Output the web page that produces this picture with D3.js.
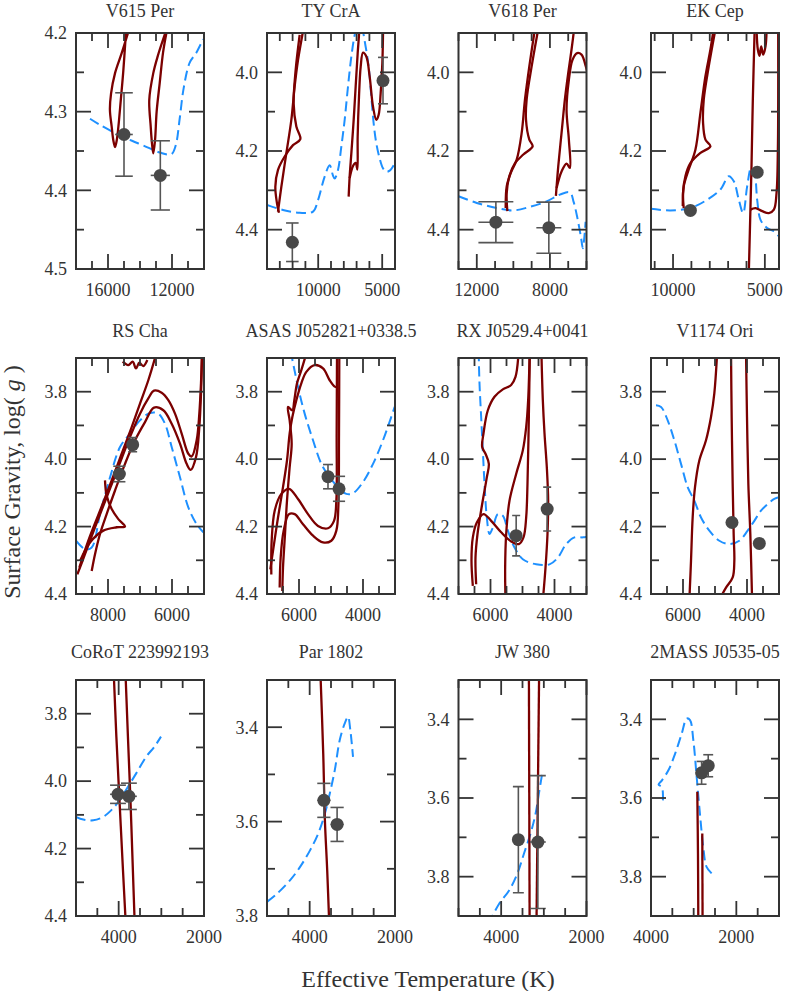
<!DOCTYPE html>
<meta charset="utf-8">

<style>
  body { margin: 0; background: #fff; }
  svg { font-family: "Liberation Serif", "Times New Roman", serif; }
  .frame { fill: none; stroke: #333; stroke-width: 2; }
  .tick { stroke: #333; stroke-width: 1.8; }
  .lbl { fill: #333; font-size: 18px; }
  .title { fill: #333; font-size: 18px; text-anchor: middle; }
  .axlabel { fill: #333; font-size: 24px; text-anchor: middle; }
  .track { fill: none; stroke: #7b0000; stroke-width: 2.3; stroke-linejoin: round; }
  .iso { fill: none; stroke: #1e90ff; stroke-width: 2; stroke-dasharray: 10,5; }
  .err { stroke: #555; stroke-width: 1.6; }
  .star { fill: #484848; }
</style>

<svg id="fig" width="790" height="991"></svg>

<script src="https://d3js.org/d3.v7.min.js"></script>
<script>
// panel titles and axis set-up
var names = ["V615 Per", "TY CrA", "V618 Per", "EK Cep",
  "RS Cha", "ASAS J052821+0338.5", "RX J0529.4+0041", "V1174 Ori",
  "CoRoT 223992193", "Par 1802", "JW 380", "2MASS J0535-05"];
var teffRange = [[18000,10000],[14000,4000],[13000,6000],[11200,4230],
  [9000,5000],[7000,3000],[7000,3000],[7000,3000],
  [5000,2000],[5000,2000],[5000,2000],[4000,1000]];
var teffLabels = [[16000,12000],[10000,5000],[12000,8000],[10000,5000],
  [8000,6000],[6000,4000],[6000,4000],[6000,4000],
  [4000,2000],[4000,2000],[4000,2000],[4000,2000]];
var teffStep = [1000,1000,1000,1000, 500,500,500,500, 500,500,500,500];
var loggRange = [[4.2,4.5],[3.9,4.5],[3.9,4.5],[3.9,4.5],
  [3.7,4.4],[3.7,4.4],[3.7,4.4],[3.7,4.4],
  [3.7,4.4],[3.3,3.8],[3.3,3.9],[3.3,3.9]];
var loggLabels = [[4.2,4.3,4.4,4.5],[4.0,4.2,4.4],[4.0,4.2,4.4],[4.0,4.2,4.4],
  [3.8,4.0,4.2,4.4],[3.8,4.0,4.2,4.4],[3.8,4.0,4.2,4.4],[3.8,4.0,4.2,4.4],
  [3.8,4.0,4.2,4.4],[3.4,3.6,3.8],[3.4,3.6,3.8],[3.4,3.6,3.8]];
var loggStep = [0.05,0.1,0.1,0.1, 0.1,0.1,0.1,0.1, 0.1,0.1,0.1,0.1];

// model tracks [Teff, log g] (solid), isochrone (dashed), stars [Teff, log g, eTeff, elogg]
var v615Tracks = [
  [[14750,4.200],[15150,4.226],[15560,4.251],[15810,4.277],[15880,4.298],[15770,4.319],[15670,4.336],[15560,4.345],[15450,4.336],[15350,4.319],[15200,4.285],[15050,4.250],[14880,4.200]],
  [[12420,4.200],[12900,4.230],[13170,4.251],[13420,4.285],[13330,4.319],[13270,4.336],[13170,4.353],[13060,4.336],[12960,4.300],[12770,4.264],[12560,4.225],[12350,4.200]]
];
var v615Iso = [[17125,4.309],[16400,4.318],[15271,4.330],[14500,4.337],[13792,4.343],[12750,4.352],[12040,4.354],[11770,4.343],[11520,4.309],[11270,4.270],[10900,4.238],[10480,4.225],[10060,4.208]];
var v615Stars = [[15000,4.329,550,0.053],[12730,4.381,600,0.044]];

var tycraTracks = [
  [[13141,4.354],[12880,4.291],[12490,4.206],[12099,4.121],[11839,4.036],[11578,3.969],[11240,3.905],[11100,3.880]],
  [[11448,3.905],[11760,3.994],[11917,4.079],[11708,4.138],[11396,4.170],[11969,4.185],[12620,4.214],[13141,4.248],[13349,4.291],[13219,4.333],[13063,4.357]],
  [[7620,4.316],[7542,4.265],[7411,4.206],[7229,4.121],[7073,4.036],[6917,3.952],[6813,3.905],[6780,3.880]],
  [[7542,4.269],[7281,4.238],[7073,4.230],[6943,4.247],[6917,4.164],[6813,4.062],[6682,3.986],[6500,3.950],[6240,3.960],[5979,4.011],[5719,4.087],[5458,4.121],[5276,4.108],[5120,4.053],[4990,3.977],[4938,3.905],[4930,3.880]]
];
var tycraIso = [[14000,4.337],[12750,4.350],[11448,4.357],[10406,4.354],[10016,4.325],[9495,4.265],[9104,4.236],[8850,4.262],[8713,4.270],[8453,4.248],[8193,4.189],[7932,4.121],[7672,4.036],[7411,3.960],[7151,3.905],[6800,3.860],[6292,3.935],[6031,3.994],[5849,4.062],[5667,4.130],[5458,4.181],[5198,4.219],[4938,4.244],[4677,4.253],[4417,4.250],[4104,4.236]];
var tycraStars = [[12021,4.432,490,0.049],[4938,4.021,390,0.059]];

var v618Tracks = [
  [[8600,3.880],[9000,3.985],[9273,4.069],[9309,4.120],[9127,4.171],[8945,4.188],[9455,4.209],[9909,4.231],[10218,4.264],[10364,4.307],[10327,4.353]],
  [[10420,4.345],[10364,4.290],[10145,4.256],[9818,4.222],[9545,4.154],[9364,4.069],[9127,3.985],[8790,3.880]],
  [[7673,4.314],[7545,4.239],[7364,4.154],[7182,4.069],[7000,4.002],[6818,3.942],[6650,3.880]],
  [[7636,4.294],[7364,4.252],[7091,4.232],[6909,4.243],[6964,4.171],[7091,4.095],[6964,4.019],[6764,3.968],[6509,3.951],[6273,3.955],[6036,3.985],[5909,4.010]]
];
var v618Iso = [[13000,4.315],[12000,4.332],[10909,4.345],[10000,4.351],[9091,4.342],[8182,4.328],[7455,4.311],[6909,4.305],[6700,4.330],[6500,4.370],[6300,4.420],[6200,4.447],[6120,4.420],[6050,4.380]];
var v618Stars = [[10956,4.381,955,0.052],[8060,4.395,683,0.065]];

var ekcepTracks = [
  [[7650,3.880],[8055,3.985],[8327,4.069],[8364,4.129],[8236,4.171],[7964,4.188],[8509,4.205],[9055,4.231],[9327,4.264],[9455,4.307],[9418,4.345]],
  [[9470,4.340],[9418,4.290],[9145,4.247],[8782,4.197],[8509,4.103],[8236,4.010],[7964,3.942],[7760,3.880]],
  [[5880,4.520],[5818,4.408],[5782,4.341],[5727,4.239],[5655,4.069],[5550,3.880]],
  [[5782,4.349],[5509,4.345],[5145,4.353],[4782,4.358],[4509,4.349],[4364,4.307],[4291,4.197],[4273,4.069],[4273,3.880]],
  [[5460,3.880],[5382,3.942],[5291,3.958],[5200,3.934],[5091,3.955],[4964,3.934],[4900,3.880]]
];
var ekcepIso = [[11200,4.347],[10145,4.351],[9055,4.345],[8145,4.324],[7418,4.298],[6964,4.264],[6691,4.277],[6418,4.324],[6182,4.358],[5964,4.290],[5745,4.243],[5564,4.256],[5418,4.324],[5236,4.375],[4873,4.396],[4509,4.404],[4236,4.417]];
var ekcepStars = [[9055,4.351,0,0],[5418,4.254,0,0]];

var rschaTracks = [
  [[8958,4.342],[8719,4.282],[8406,4.202],[8042,4.113],[7677,4.024],[7312,3.934],[7000,3.865],[6740,3.820],[6562,3.797],[6323,3.803],[6115,3.825],[5906,3.865],[5698,3.924],[5490,3.984],[5385,3.992],[5229,3.944],[5146,3.865],[5094,3.775],[5060,3.680]],
  [[8510,4.332],[8406,4.282],[8250,4.222],[8042,4.163],[7781,4.093],[7469,4.014],[7156,3.944],[6844,3.890],[6562,3.847],[6271,3.855],[6010,3.895],[5750,3.954],[5542,4.014],[5417,4.032],[5250,3.994],[5146,3.905],[5094,3.805],[5060,3.680]],
  [[8896,4.322],[8615,4.242],[8250,4.153],[7885,4.063],[7573,3.984],[7260,3.905],[7000,3.835],[6740,3.766],[6470,3.680]],
  [[8875,4.302],[8562,4.247],[8146,4.212],[7729,4.202],[7469,4.200],[7677,4.178],[7885,4.148],[8042,4.108],[8094,4.063]],
  [[7542,3.711],[7365,3.721],[7229,3.711],[7125,3.731],[7021,3.714],[6896,3.724],[6771,3.706]]
];
var rschaIso = [[9000,4.242],[8719,4.267],[8510,4.262],[8250,4.163],[7937,4.054],[7625,3.964],[7312,3.924],[7000,3.885],[6687,3.863],[6427,3.865],[6219,3.895],[6010,3.964],[5750,4.054],[5490,4.143],[5229,4.193],[5021,4.217]];
var rschaStars = [[7646,4.044,190,0.023],[7229,3.957,140,0.021]];

var asasTracks = [
  [[6896,4.327],[6812,4.272],[6656,4.173],[6500,4.083],[6375,4.004],[6292,3.924],[6208,3.875],[6083,3.825],[5927,3.775],[5771,3.741],[5510,3.721],[5250,3.731],[5042,3.766],[4885,3.785],[4812,3.787]],
  [[6521,4.391],[6500,4.322],[6437,4.222],[6375,4.123],[6292,4.024],[6229,3.954],[6292,3.885],[6344,3.845],[6208,3.855],[6146,3.825],[6062,3.775],[5927,3.736],[5750,3.680]],
  [[6865,4.342],[6854,4.242],[6760,4.153],[6552,4.103],[6312,4.088],[6031,4.118],[5719,4.163],[5406,4.198],[5094,4.205],[4906,4.183],[4833,4.123],[4823,3.924],[4812,3.680]],
  [[6604,4.381],[6573,4.292],[6479,4.212],[6312,4.163],[6135,4.163],[5875,4.193],[5562,4.227],[5250,4.247],[4990,4.242],[4833,4.212],[4771,4.143],[4750,3.924],[4740,3.680]]
];
var asasIso = [[6260,3.680],[6031,3.785],[5823,3.865],[5562,3.944],[5302,4.014],[5042,4.054],[4781,4.083],[4521,4.103],[4313,4.101],[4000,4.068],[3687,4.014],[3375,3.944],[3010,3.845]];
var asasStars = [[5094,4.052,155,0.036],[4750,4.088,190,0.037]];

var rxTracks = [
  [[6552,4.376],[6594,4.301],[6552,4.232],[6427,4.188],[6219,4.163],[5979,4.183],[5667,4.217],[5354,4.244],[5115,4.252],[4969,4.232],[4885,4.173],[4844,4.073],[4802,3.875],[4771,3.680]],
  [[6448,4.371],[6469,4.292],[6406,4.222],[6260,4.133],[6115,4.054],[6052,4.014],[6156,3.984],[6260,3.964],[6219,3.924],[6083,3.855],[5875,3.815],[5615,3.793],[5354,3.780],[5219,3.756],[5120,3.680]],
  [[5531,4.420],[5542,4.322],[5510,4.222],[5406,4.123],[5198,4.044],[4990,3.974],[4885,3.905],[4823,3.825],[4775,3.680]],
  [[4365,4.420],[4281,4.322],[4219,4.222],[4198,4.123],[4240,4.024],[4312,3.924],[4365,3.825],[4410,3.680]]
];
var rxIso = [[6370,3.680],[6344,3.775],[6292,3.875],[6240,3.974],[6187,4.073],[6115,4.173],[6031,4.222],[5927,4.203],[5771,4.163],[5615,4.168],[5458,4.212],[5250,4.262],[4990,4.297],[4573,4.312],[4156,4.312],[3896,4.292],[3635,4.252],[3375,4.232],[3115,4.232],[2990,4.230]];
var rxStars = [[5198,4.227,125,0.060],[4229,4.148,125,0.065]];

var v1174Tracks = [
  [[5802,4.420],[5750,4.302],[5698,4.173],[5625,4.083],[5490,4.004],[5281,3.944],[5125,3.875],[5021,3.805],[4930,3.680]],
  [[4500,3.680],[4479,3.875],[4448,4.073],[4417,4.222],[4396,4.302],[4448,4.351],[4656,4.381],[4880,4.420]],
  [[4031,3.680],[4000,3.875],[3958,4.073],[3896,4.222],[3840,4.420]]
];
var v1174Iso = [[6844,3.840],[6687,3.845],[6479,3.885],[6271,3.944],[6062,4.014],[5854,4.083],[5646,4.123],[5437,4.173],[5177,4.212],[4865,4.242],[4552,4.252],[4240,4.242],[3979,4.212],[3771,4.183],[3562,4.153],[3354,4.133],[3146,4.118],[2990,4.113]];
var v1174Stars = [[4469,4.188,0,0],[3615,4.250,0,0]];

var corotTracks = [
  [[4115,3.680],[4054,3.868],[3977,4.066],[3899,4.264],[3835,4.420]],
  [[3840,3.680],[3783,3.868],[3721,4.066],[3667,4.264],[3625,4.420]]
];
var corotIso = [[5000,4.106],[4829,4.114],[4597,4.116],[4364,4.106],[4171,4.086],[3977,4.056],[3783,4.017],[3589,3.977],[3357,3.928],[3163,3.898],[3008,3.868]];
var corotStars = [[4016,4.039,186,0.027],[3760,4.045,186,0.039]];

var parTracks = [
  [[3750,3.280],[3682,3.456],[3643,3.597],[3589,3.703],[3540,3.820]]
];
var parIso = [[5000,3.770],[4767,3.753],[4457,3.724],[4225,3.696],[3992,3.661],[3798,3.625],[3643,3.583],[3527,3.540],[3411,3.491],[3295,3.427],[3178,3.392],[3101,3.378],[3047,3.406],[2984,3.463]];
var parStars = [[3667,3.555,155,0.036],[3357,3.606,155,0.036]];

var jwTracks = [
  [[3350,3.280],[3333,3.920]],
  [[3110,3.280],[3172,3.920]]
];
var jwIso = [[4300,3.920],[4047,3.869],[3814,3.835],[3620,3.792],[3465,3.741],[3310,3.690],[3194,3.640],[3116,3.589],[3039,3.538]];
var jwStars = [[3597,3.706,128,0.135],[3140,3.712,186,0.169]];

var tmassTracks = [
  [[2915,3.584],[2899,3.741],[2891,3.920]],
  [[2798,3.690],[2791,3.920]]
];
var tmassIso = [[3721,3.606],[3744,3.572],[3822,3.566],[3744,3.555],[3589,3.529],[3434,3.487],[3279,3.436],[3163,3.398],[3085,3.402],[3008,3.453],[2930,3.546],[2853,3.640],[2775,3.725],[2698,3.775],[2558,3.794]];
var tmassStars = [[2814,3.536,116,0.029],[2659,3.518,116,0.028]];

var tracks = [v615Tracks, tycraTracks, v618Tracks, ekcepTracks, rschaTracks, asasTracks,
  rxTracks, v1174Tracks, corotTracks, parTracks, jwTracks, tmassTracks];
var isochrones = [v615Iso, tycraIso, v618Iso, ekcepIso, rschaIso, asasIso,
  rxIso, v1174Iso, corotIso, parIso, jwIso, tmassIso];
var stars = [v615Stars, tycraStars, v618Stars, ekcepStars, rschaStars, asasStars,
  rxStars, v1174Stars, corotStars, parStars, jwStars, tmassStars];

// layout
var colX = [76, 267, 458.5, 651], rowY = [33, 358, 680], titleDy = [-16, -21, -22];
var W = 128, H = 236, majorLen = 15, minorLen = 8;

var svg = d3.select("#fig");

function stepTicks(dom, step) {
  var lo = Math.min(dom[0], dom[1]), hi = Math.max(dom[0], dom[1]);
  var out = [];
  for (var k = Math.ceil(lo / step - 1e-6); k <= Math.floor(hi / step + 1e-6); k++) out.push(+(k * step).toFixed(4));
  return out;
}

names.forEach(function(name, i) {
  var col = i % 4, row = Math.floor(i / 4);
  var g = svg.append("g").attr("transform", "translate(" + colX[col] + "," + rowY[row] + ")");
  var x = d3.scaleLinear().domain(teffRange[i]).range([0, W]);
  var y = d3.scaleLinear().domain(loggRange[i]).range([0, H]);

  g.append("clipPath").attr("id", "clip" + i)
    .append("rect").attr("width", W).attr("height", H);
  var plot = g.append("g").attr("clip-path", "url(#clip" + i + ")");

  var line = d3.line().x(function(d) { return x(d[0]); }).y(function(d) { return y(d[1]); })
    .curve(d3.curveCatmullRom.alpha(0.5));

  plot.selectAll(".iso").data([isochrones[i]]).enter().append("path")
    .attr("class", "iso").attr("d", line);
  plot.selectAll(".track").data(tracks[i]).enter().append("path")
    .attr("class", "track").attr("d", line);

  // error bars then dots
  stars[i].forEach(function(s) {
    if (s[3] > 0) {
      var cx = x(s[0]), y0 = y(s[1] - s[3]), y1 = y(s[1] + s[3]);
      var hw = Math.max(Math.abs(x(s[0] + s[2]) - cx), 4);
      plot.append("line").attr("class", "err").attr("x1", cx).attr("x2", cx).attr("y1", y0).attr("y2", y1);
      plot.append("line").attr("class", "err").attr("x1", cx - hw).attr("x2", cx + hw).attr("y1", y0).attr("y2", y0);
      plot.append("line").attr("class", "err").attr("x1", cx - hw).attr("x2", cx + hw).attr("y1", y1).attr("y2", y1);
      plot.append("line").attr("class", "err").attr("x1", cx - hw).attr("x2", cx + hw).attr("y1", y(s[1])).attr("y2", y(s[1]));
    }
  });
  plot.selectAll(".star").data(stars[i]).enter().append("circle")
    .attr("class", "star").attr("r", 6.5)
    .attr("cx", function(d) { return x(d[0]); })
    .attr("cy", function(d) { return y(d[1]); });

  // ticks, inward on all sides
  var xMaj = teffLabels[i], yMaj = loggLabels[i];
  function isMajor(v, list) { return list.some(function(m) { return Math.abs(m - v) < 1e-6; }); }
  stepTicks(teffRange[i], teffStep[i]).forEach(function(v) {
    var len = isMajor(v, xMaj) ? majorLen : minorLen, px = x(v);
    g.append("line").attr("class", "tick").attr("x1", px).attr("x2", px).attr("y1", H).attr("y2", H - len);
    g.append("line").attr("class", "tick").attr("x1", px).attr("x2", px).attr("y1", 0).attr("y2", len);
  });
  stepTicks(loggRange[i], loggStep[i]).forEach(function(v) {
    var len = isMajor(v, yMaj) ? majorLen : minorLen, py = y(v);
    g.append("line").attr("class", "tick").attr("x1", 0).attr("x2", len).attr("y1", py).attr("y2", py);
    g.append("line").attr("class", "tick").attr("x1", W).attr("x2", W - len).attr("y1", py).attr("y2", py);
  });

  g.append("rect").attr("class", "frame").attr("width", W).attr("height", H);

  g.selectAll(".xl").data(xMaj).enter().append("text")
    .attr("class", "lbl").attr("text-anchor", "middle")
    .attr("x", function(d) { return x(d); }).attr("y", H + 27)
    .text(d3.format("d"));
  g.selectAll(".yl").data(yMaj).enter().append("text")
    .attr("class", "lbl").attr("text-anchor", "end")
    .attr("x", -9).attr("y", function(d) { return y(d); }).attr("dy", "0.35em")
    .text(d3.format(".1f"));

  g.append("text").attr("class", "title").attr("x", W / 2).attr("y", titleDy[row]).text(name);
});

svg.append("text").attr("class", "axlabel").attr("x", 428).attr("y", 987)
  .text("Effective Temperature (K)");
var yl = svg.append("text").attr("class", "axlabel")
  .attr("transform", "translate(20,482) rotate(-90)");
yl.append("tspan").text("Surface Gravity, log( ");
yl.append("tspan").attr("font-style", "italic").text("g");
yl.append("tspan").text(" )");
</script>
